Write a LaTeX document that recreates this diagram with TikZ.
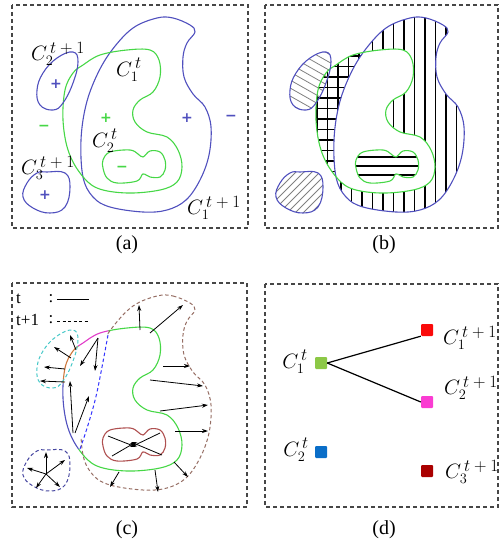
\documentclass[tikz,border=0pt]{standalone}
\usepackage{fontspec}
\setmainfont{Liberation Serif}
\newfontfamily\signfont{DejaVu Sans}
\usetikzlibrary{arrows.meta}
\definecolor{blueC}{RGB}{80,80,190}
\definecolor{greenC}{RGB}{70,215,70}
\definecolor{frameC}{RGB}{70,70,70}
\definecolor{brownC}{RGB}{150,110,100}
\definecolor{peanutC}{RGB}{175,80,80}
\definecolor{cyanC}{RGB}{70,200,200}
\definecolor{dblueC}{RGB}{70,70,160}
\definecolor{orangeC}{RGB}{205,120,60}
\definecolor{magC}{RGB}{225,60,200}
\definecolor{dGreen}{RGB}{140,200,70}
\definecolor{dRed}{RGB}{250,10,10}
\definecolor{dMag}{RGB}{250,60,210}
\definecolor{dBlue}{RGB}{10,110,200}
\definecolor{dDark}{RGB}{170,0,0}
\newcommand\BigC{plot[smooth cycle,tension=0.6] coordinates {(157,18) (173,18) (190,25) (195,32) (187,43) (183,57) (184,77) (193,94) (205,107) (211,127) (209,155) (200,180) (186,200) (167,210) (143,212) (110,207) (93,197) (83,177) (81,140) (86,105) (97,75) (112,50) (133,28)}}
\newcommand\GreenC{plot[smooth cycle,tension=0.6] coordinates {(73,73) (83,65) (100,55) (127,50) (150,50) (159,60) (160,77) (153,92) (140,100) (133,110) (135,122) (147,132) (167,137) (178,150) (182,167) (177,182) (160,190) (127,193) (97,188) (80,173) (68,150) (63,120) (65,90)}}
\newcommand\PeanutC{plot[smooth cycle,tension=0.6] coordinates {(103,160) (110,152) (130,150) (138,154) (143,157) (150,151) (160,152) (165,160) (165,170) (160,177) (150,177) (143,174) (137,181) (117,183) (107,178) (103,168)}}
\newcommand\SmallTwo{plot[smooth cycle,tension=0.7] coordinates {(73,52) (78,62) (73,83) (63,103) (53,110) (40,105) (37,90) (43,73) (57,58)}}
\newcommand\SmallThree{plot[smooth cycle,tension=0.7] coordinates {(47,172) (65,173) (70,187) (65,207) (50,213) (33,208) (23,197) (27,183) (37,173)}}
\newcommand\Cl[2]{$C_{#1}^{\mbox{\fontsize{17}{17}\selectfont$\,#2$}}$}
\tikzset{
  panelframe/.style={draw=frameC, line width=1.2pt, dash pattern=on 4pt off 3pt},
  captext/.style={font=\fontsize{20}{24}\selectfont, inner sep=0pt},
  lab/.style={font=\fontsize{22}{26}\selectfont, inner sep=0pt},
  signtext/.style={font=\signfont\bfseries\fontsize{14}{14}\selectfont, inner sep=0pt},
  contour/.style={line width=1.1pt},
  hatchline/.style={line width=1.3pt, black},
  diagline/.style={line width=0.8pt, gray},
  arr/.style={line width=0.8pt, -{Stealth[length=6pt,width=4pt]}},
  dsh/.style={line width=1pt, dash pattern=on 3.5pt off 2.5pt},
  sqbox/.style={minimum size=12pt, inner sep=0pt, rounded corners=1pt},
  legendtext/.style={font=\fontsize{17}{20}\selectfont, inner sep=0pt},
}
\begin{document}
\begin{tikzpicture}[x=1pt,y=-1pt]
\useasboundingbox (0,0) rectangle (500,545);
% ---------- frames and captions
\draw[panelframe] (12,5) rectangle (248,228);
\draw[panelframe] (265,5) rectangle (498,228);
\draw[panelframe] (12,283) rectangle (247,507);
\draw[panelframe] (265,284) rectangle (498,507);
\node[captext] (capa) at (127,245) {(a)};
\node[captext] (capb) at (384,245) {(b)};
\node[captext] (capc) at (127,530) {(c)};
\node[captext] (capd) at (384,530) {(d)};
% ---------- panel (a)
\draw[blueC, contour] \BigC;
\draw[greenC, contour] \GreenC;
\draw[greenC, contour] \PeanutC;
\draw[blueC, contour] \SmallTwo;
\draw[blueC, contour] \SmallThree;
\node[lab] (a1) at (58,54) {\Cl{2}{t+1}};
\node[lab] (a2) at (129,70) {\Cl{1}{t}};
\node[lab] (a3) at (105,141) {\Cl{2}{t}};
\node[lab] (a4) at (48,168) {\Cl{3}{t+1}};
\node[lab] (a5) at (214,208) {\Cl{1}{t+1}};
\node[signtext, text=blueC] (s1) at (56,84) {+};
\node[signtext, text=greenC] (s2) at (106,118) {+};
\node[signtext, text=greenC] (s3) at (44,128) {−};
\node[signtext, text=blueC] (s4) at (187,118) {+};
\node[signtext, text=blueC] (s5) at (231,118) {−};
\node[signtext, text=greenC] (s6) at (122,169) {−};
\node[signtext, text=blueC] (s7) at (45,195) {+};
% ---------- panel (b)
\begin{scope}[shift={(253,0)}]
  \begin{scope}[even odd rule]
    \clip \BigC \GreenC;
    \clip \BigC;
    \foreach \x in {88,98.5,...,215} \draw[hatchline] (\x,10) -- (\x,225);
  \end{scope}
  \begin{scope}[even odd rule]
    \clip \BigC \GreenC;
    \clip \GreenC;
    \foreach \x in {64,74.5,...,115} \draw[hatchline] (\x,40) -- (\x,200);
    \foreach \y in {56,66.5,...,190} \draw[hatchline] (55,\y) -- (120,\y);
  \end{scope}
  \begin{scope}
    \clip \PeanutC;
    \foreach \y in {157,166,175} \draw[hatchline] (100,\y) -- (170,\y);
  \end{scope}
  \begin{scope}
    \clip \SmallTwo;
    \foreach \y in {20,28,...,120} \draw[diagline] (30,\y) -- (90,\y+34);
  \end{scope}
  \begin{scope}
    \clip \SmallThree;
    \foreach \y in {160,168,...,270} \draw[diagline] (15,\y) -- (80,\y-65);
  \end{scope}
  \draw[blueC, contour] \BigC;
  \draw[greenC, contour] \GreenC;
  \draw[greenC, contour] \PeanutC;
  \draw[blueC, contour] \SmallTwo;
  \draw[blueC, contour] \SmallThree;
\end{scope}
% ---------- panel (c)
\node[legendtext, anchor=west] (lt) at (16,299) {t};
\node[legendtext] (lc1) at (51,299) {:};
\node[legendtext, anchor=west] (lt1) at (16,320) {t+1};
\node[legendtext] (lc2) at (51,320) {:};
\coordinate (l1a) at (57,299); \coordinate (l1b) at (89,299);
\coordinate (l2a) at (57,321); \coordinate (l2b) at (89,321);
\draw[line width=1pt] (l1a) -- (l1b);
\draw[line width=1pt, dash pattern=on 3pt off 2.5pt] (l2a) -- (l2b);
\begin{scope}[shift={(0,278)}]
  \begin{scope}
    \clip (119,10) -- (250,10) -- (250,240) -- (61,240) -- cycle;
    \draw[greenC, contour] \GreenC;
    \draw[brownC, dsh] \BigC;
  \end{scope}
  \begin{scope}
    \clip (119,10) -- (0,10) -- (0,68) -- (104.7,68) -- cycle;
    \draw[magC, contour] \GreenC;
  \end{scope}
  \begin{scope}
    \clip (104.7,68) -- (0,68) -- (0,105) -- (95.3,105) -- cycle;
    \draw[orangeC, contour] \GreenC;
  \end{scope}
  \begin{scope}
    \clip (95.3,105) -- (0,105) -- (0,240) -- (61,240) -- cycle;
    \draw[blueC, contour] \GreenC;
  \end{scope}
  \draw[blue!80!white, dsh] plot[smooth, tension=0.6] coordinates {(108,57) (97,114) (88,147) (80,171)};
  \draw[peanutC, contour] \PeanutC;
  \draw[cyanC, dsh] \SmallTwo;
  \draw[dblueC, dsh] \SmallThree;
  % arrows on the right
  \draw[arr] (140,52) -- (139,27);
  \draw[arr] (150,55) -- (183,27);
  \draw[arr] (163,88) -- (190,88);
  \draw[arr] (150,102) -- (203,108);
  \draw[arr] (160,133) -- (208,127);
  \draw[arr] (175,153) -- (208,153);
  \draw[arr] (174,184) -- (188,199);
  \draw[arr] (155,192) -- (158,214);
  \draw[arr] (119,194) -- (110,209);
  % arrows on the left
  \draw[arr] (65,104) -- (40,103);
  \draw[arr] (65,91) -- (44,89);
  \draw[arr] (71,80) -- (54,69);
  \draw[arr] (76,72) -- (70,57);
  \draw[arr] (73,155) -- (70,103);
  \draw[arr] (75,155) -- (89,118);
  \draw[arr] (98,60) -- (80,88);
  \draw[arr] (98,60) -- (95,93);
  % arrows in the peanut
  \draw[arr] (108,158) -- (136,169);
  \draw[arr] (112,178) -- (136,164);
  \draw[arr] (160,155) -- (131,169);
  \draw[arr] (162,177) -- (131,164);
  % arrows in the small region
  \draw[arr] (46,196) -- (46,174);
  \draw[arr] (46,196) -- (27,190);
  \draw[arr] (46,196) -- (36,210);
  \draw[arr] (46,196) -- (60,209);
  \draw[arr] (46,196) -- (65,182);
\end{scope}
% ---------- panel (d)
\node[sqbox, fill=dGreen] (g1) at (321,363) {};
\node[sqbox, fill=dRed] (r1) at (427,330) {};
\node[sqbox, fill=dMag] (m2) at (427,402) {};
\node[sqbox, fill=dBlue] (b2) at (321,452) {};
\node[sqbox, fill=dDark] (k3) at (427,471) {};
\draw[line width=1.2pt] (g1.east) -- (r1.south west);
\draw[line width=1.2pt] (g1.east) -- (m2.west);
\node[lab] (d1) at (295,362) {\Cl{1}{t}};
\node[lab] (d2) at (470,338) {\Cl{1}{t+1}};
\node[lab] (d3) at (471,388) {\Cl{2}{t+1}};
\node[lab] (d4) at (296,450) {\Cl{2}{t}};
\node[lab] (d5) at (472,472) {\Cl{3}{t+1}};
\end{tikzpicture}
\end{document}
